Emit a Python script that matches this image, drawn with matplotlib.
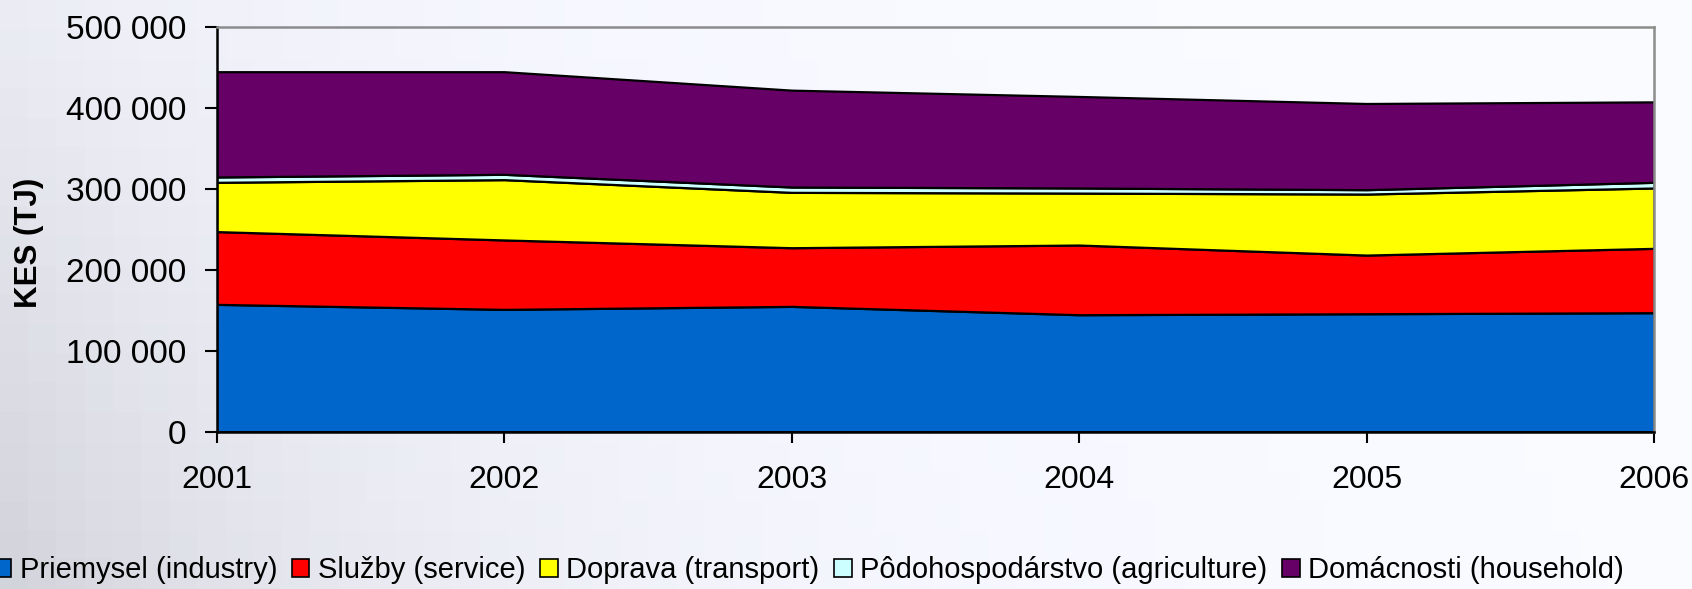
import numpy as np
from matplotlib import pyplot as plt
from matplotlib.patches import Patch

plt.rcParams['font.family'] = ['Liberation Sans', 'DejaVu Sans']

years = [2001, 2002, 2003, 2004, 2005, 2006]
industry = [157400, 151200, 154900, 144600, 145800, 147100]
service = [89900, 85800, 72500, 86100, 72500, 79500]
transport = [60900, 74500, 68400, 64200, 75400, 74600]
agriculture = [6600, 6600, 6600, 6300, 5400, 7000]
household = [130100, 126800, 119700, 113100, 106500, 99400]

labels = ['Priemysel (industry)', 'Služby (service)', 'Doprava (transport)',
          'Pôdohospodárstvo (agriculture)', 'Domácnosti (household)']
colors = ['#0066cc', '#ff0000', '#ffff00', '#ccffff', '#660066']
y_ticks = [0, 100000, 200000, 300000, 400000, 500000]


def fmt_thousands(v):
    return f"{v:,}".replace(',', ' ')


fig = plt.figure(figsize=(16.92, 5.89), dpi=100)

# pale blurred background, greyer towards the lower left
bg = fig.add_axes([0, 0, 1, 1], zorder=-10)
gx = np.linspace(0, 1, 60)
gy = np.linspace(0, 1, 20)
X, Y = np.meshgrid(gx, gy)
fade = np.clip(1.0 - 0.16 * np.exp(-3.5 * X) * (0.4 + 0.6 * Y), 0, 1)
rgb = np.dstack([fade * 0.985, fade * 0.99, np.clip(fade + 0.02, 0, 1)])
bg.imshow(np.clip(rgb, 0, 1), aspect='auto', interpolation='nearest', extent=[0, 1, 0, 1])
bg.axis('off')

ax = fig.add_axes([0.128, 0.267, 0.8496, 0.687])
ax.set_facecolor('none')

ax.stackplot(years, industry, service, transport, agriculture, household,
             colors=colors, edgecolor='black', linewidth=1.6)

ax.set_xlim(2001, 2006)
ax.set_ylim(0, 500000)
ax.set_xticks(years)
ax.set_xticklabels([str(y) for y in years])
ax.set_yticks(y_ticks)
ax.set_yticklabels([fmt_thousands(v) for v in y_ticks])

ax.tick_params(axis='y', direction='out', length=9, width=1.5, pad=13, labelsize=24)
ax.tick_params(axis='x', direction='out', length=8, width=1.5, pad=16, labelsize=23)

for side in ['left', 'bottom']:
    ax.spines[side].set_color('black')
    ax.spines[side].set_linewidth(1.8)
for side in ['top', 'right']:
    ax.spines[side].set_color('#8c8c8c')
    ax.spines[side].set_linewidth(1.8)

ax.set_ylabel('KES (TJ)', fontsize=22.5, fontweight='bold')
ax.yaxis.set_label_coords(-0.12, 0.466)

handles = [Patch(facecolor=c, edgecolor='black', linewidth=1.2) for c in colors]
fig.legend(handles, labels, loc='center', bbox_to_anchor=(0.478, 0.032), ncol=5,
           frameon=False, fontsize=21, handlelength=0.6, handleheight=0.6,
           handletextpad=0.3, columnspacing=0.5, borderaxespad=0)

fig.savefig('out.png', dpi=100)
